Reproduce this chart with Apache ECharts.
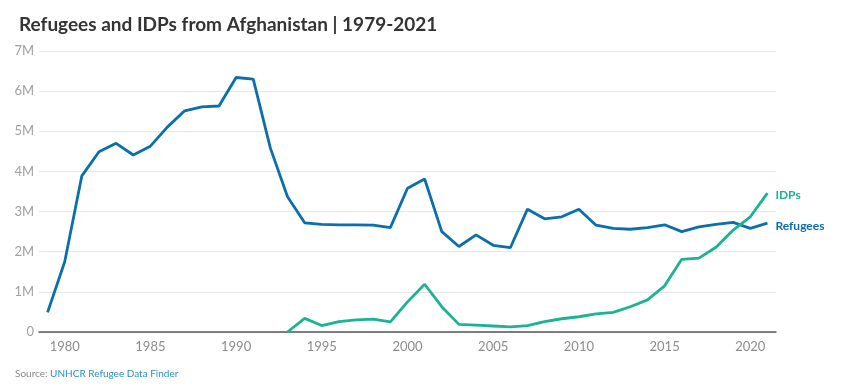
<!DOCTYPE html>
<html><head><meta charset="utf-8">
<script src="https://cdn.jsdelivr.net/npm/echarts@6/dist/echarts.min.js"></script>
<style>html,body{margin:0;padding:0;background:#fff}#c{width:848px;height:391px}</style>
</head><body><div id="c"></div>
<script>
const years = [];
for (let y = 1979; y <= 2021; y++) years.push(String(y));
const refugees = [0.49,1.75,3.89,4.49,4.70,4.41,4.63,5.11,5.51,5.61,5.63,6.34,6.30,4.58,3.37,2.72,2.68,2.67,2.67,2.66,2.60,3.58,3.81,2.50,2.13,2.42,2.16,2.10,3.06,2.82,2.87,3.06,2.66,2.58,2.56,2.60,2.67,2.50,2.62,2.68,2.73,2.58,2.71];
const idps = [null,null,null,null,null,null,null,null,null,null,null,null,null,null,0,0.34,0.16,0.26,0.30,0.32,0.25,0.75,1.19,0.63,0.19,0.17,0.15,0.13,0.16,0.26,0.33,0.38,0.45,0.49,0.63,0.80,1.15,1.81,1.84,2.11,2.54,2.87,3.46];
const yTicks = ['0','1M','2M','3M','4M','5M','6M','7M'];
const refColor = '#0a6faa', idpColor = '#1bb394';
const font = 'Lato, "Open Sans", sans-serif';
const chart = echarts.init(document.getElementById('c'));
chart.setOption({
  animation: false,
  textStyle: {fontFamily: font},
  title: {text: 'Refugees and IDPs from Afghanistan | 1979-2021', left: 14, top: 10,
    textStyle: {fontFamily: font, fontSize: 19, fontWeight: 'bold', color: '#333'}},
  graphic: [{type: 'text', left: 15, top: 369, style: {
    text: '{g|Source: }{b|UNHCR Refugee Data Finder}',
    rich: {g: {fill: '#888', fontSize: 10, fontFamily: font}, b: {fill: '#2a8fc4', fontSize: 10, fontFamily: font}}}}],
  grid: {left: 39, right: 72, top: 51, bottom: 59},
  xAxis: {type: 'category', data: years, boundaryGap: true,
    axisLine: {lineStyle: {color: '#555', width: 1.5}}, axisTick: {show: false},
    axisLabel: {interval: (i, v) => (+v) % 5 === 0, color: '#8c8c8c', fontSize: 13, margin: 8, fontFamily: font}},
  yAxis: {type: 'value', min: 0, max: 7, interval: 1,
    axisLine: {show: false}, axisTick: {show: false},
    splitLine: {lineStyle: {color: '#e6e6e6'}},
    axisLabel: {formatter: v => yTicks[Math.round(v)], color: '#a0a0a0', fontSize: 13, margin: 5, fontFamily: font}},
  series: [
    {name: 'Refugees', type: 'line', data: refugees, symbol: 'none', lineStyle: {color: refColor, width: 2.8}, itemStyle: {color: refColor},
      endLabel: {show: true, formatter: '{a}', color: refColor, fontWeight: 'bold', fontSize: 12, distance: 8, offset: [0, 3], fontFamily: font}},
    {name: 'IDPs', type: 'line', data: idps, symbol: 'none', lineStyle: {color: idpColor, width: 2.8}, itemStyle: {color: idpColor},
      endLabel: {show: true, formatter: '{a}', color: idpColor, fontWeight: 'bold', fontSize: 12, distance: 8, offset: [0, 2], fontFamily: font}}
  ]
});
</script></body></html>
